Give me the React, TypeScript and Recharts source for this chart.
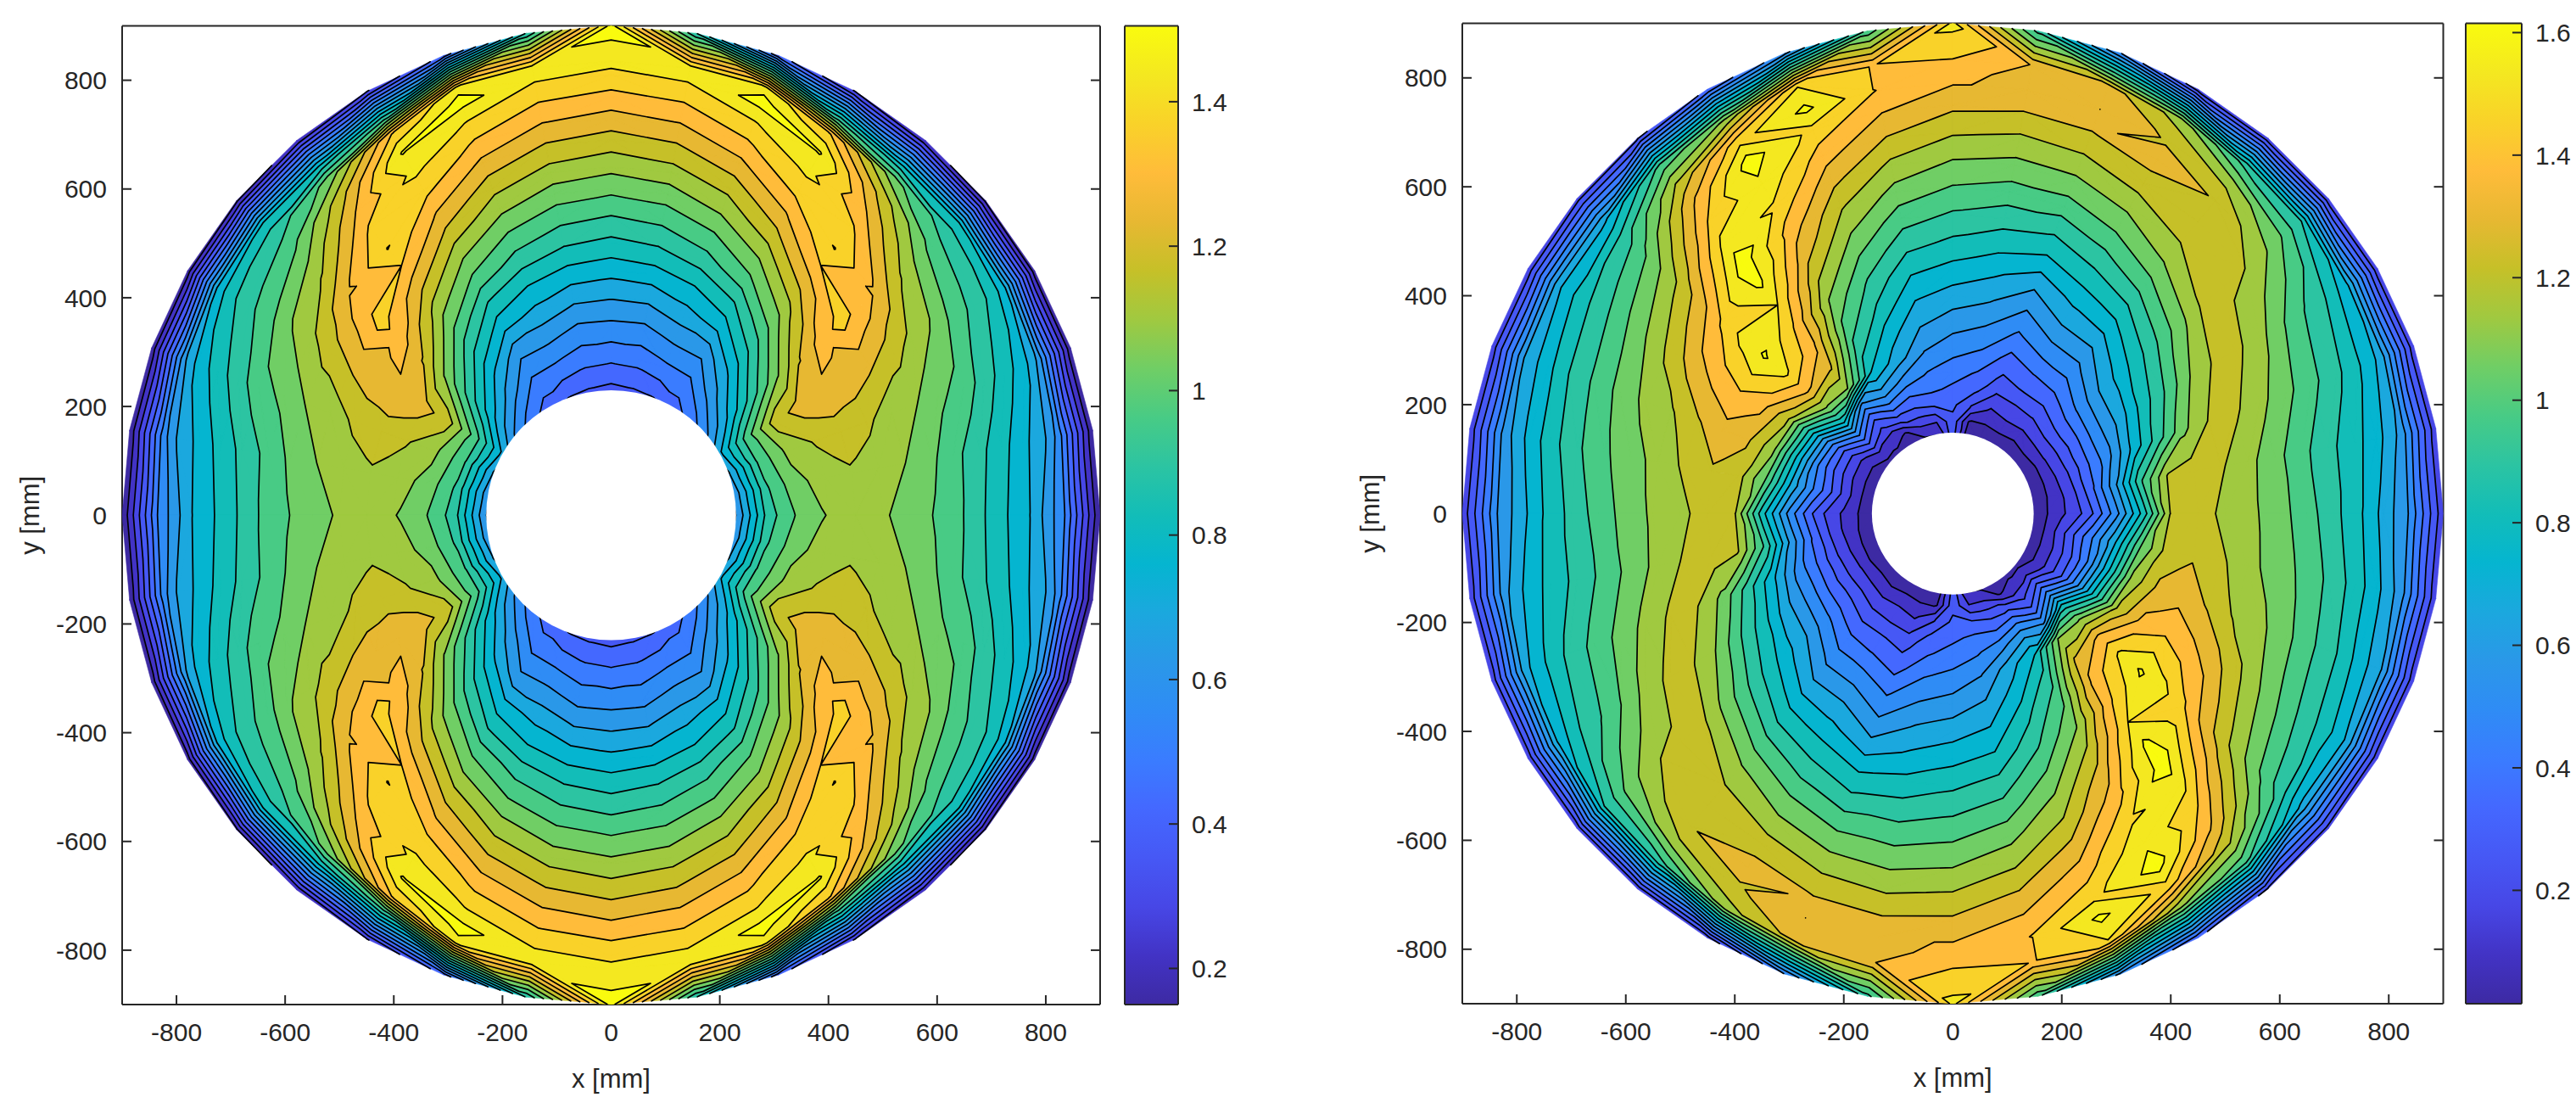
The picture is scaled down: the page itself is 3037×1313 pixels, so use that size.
import React from "react";
import { ScatterChart, Scatter, XAxis, YAxis, BarChart, Bar, Label } from "recharts";

// Field samples: one list per ray, angle in degrees from +x
const leftRadii = [225, 290, 345, 400, 450, 500, 550, 600, 640, 690, 730, 770, 810, 835, 900];
const leftT0 = [0.6, 0.93, 1.04, 1.1, 1.125, 1.105, 1.065, 1.02, 0.975, 0.89, 0.825, 0.76, 0.64, 0.555, 0.16];
const leftT10 = [0.62, 0.95, 1.075, 1.125, 1.155, 1.12, 1.095, 1.04, 0.985, 0.91, 0.85, 0.78, 0.7, 0.6, 0.165];
const leftT20 = [0.66, 0.98, 1.11, 1.17, 1.195, 1.18, 1.12, 1.095, 1.045, 1.0, 0.93, 0.86, 0.78, 0.68, 0.17];
const leftT30 = [0.72, 1.0, 1.19, 1.26, 1.285, 1.27, 1.24, 1.19, 1.14, 1.08, 1.0, 0.94, 0.87, 0.78, 0.18];
const leftT40 = [0.6, 0.79, 0.945, 1.09, 1.225, 1.32, 1.39, 1.34, 1.28, 1.17, 1.09, 1.0, 0.92, 0.84, 0.2];
const leftT50 = [0.51, 0.66, 0.78, 0.91, 1.0275, 1.135, 1.25, 1.365, 1.435, 1.375, 1.3, 1.21, 1.05, 0.85, 0.23];
const leftT60 = [0.45, 0.55, 0.645, 0.78, 0.885, 1.005, 1.105, 1.21, 1.29, 1.39, 1.45, 1.505, 1.36, 1.0, 0.28];
const leftT70 = [0.41, 0.54, 0.64, 0.74, 0.827, 0.93, 1.02, 1.115, 1.185, 1.28, 1.355, 1.428, 1.53, 1.47, 0.45];
const leftT80 = [0.4, 0.513, 0.6, 0.7, 0.795, 0.889, 0.976, 1.063, 1.134, 1.221, 1.293, 1.363, 1.434, 1.47, 0.9];
const leftT90 = [0.39, 0.505, 0.6, 0.695, 0.783, 0.872, 0.958, 1.047, 1.115, 1.2, 1.27, 1.344, 1.412, 1.455, 1.53];
const leftRays = [leftT0, leftT10, leftT20, leftT30, leftT40, leftT50, leftT60, leftT70, leftT80, leftT90];

const rightRadii = [140, 170, 200, 230, 260, 300, 350, 400, 450, 500, 550, 600, 650, 700, 750, 790, 835, 900];
const rightT0 = [0.05, 0.085, 0.16, 0.23, 0.345, 0.545, 0.85, 1.22, 1.26, 1.19, 1.15, 1.085, 1.01, 0.92, 0.82, 0.71, 0.58, 0.2];
const rightT10 = [0.055, 0.08, 0.16, 0.26, 0.4, 0.62, 0.96, 1.22, 1.26, 1.225, 1.16, 1.085, 1.0, 0.92, 0.84, 0.77, 0.63, 0.2];
const rightT20 = [0.055, 0.08, 0.175, 0.275, 0.395, 0.535, 0.75, 0.935, 1.115, 1.22, 1.23, 1.16, 1.08, 1.0, 0.915, 0.83, 0.71, 0.2];
const rightT30 = [0.05, 0.08, 0.19, 0.285, 0.39, 0.535, 0.68, 0.845, 0.98, 1.13, 1.22, 1.235, 1.165, 1.06, 0.965, 0.895, 0.76, 0.2];
const rightT40 = [0.05, 0.095, 0.19, 0.295, 0.385, 0.51, 0.655, 0.77, 0.88, 1.0, 1.12, 1.235, 1.235, 1.215, 1.14, 1.05, 0.895, 0.2];
const rightT50 = [0.05, 0.08, 0.175, 0.26, 0.34, 0.44, 0.55, 0.66, 0.78, 0.895, 1.02, 1.13, 1.215, 1.25, 1.29, 1.19, 0.95, 0.2];
const rightT60 = [0.05, 0.095, 0.185, 0.255, 0.34, 0.425, 0.545, 0.655, 0.755, 0.855, 0.955, 1.06, 1.155, 1.255, 1.33, 1.285, 1.18, 0.21];
const rightT70 = [0.055, 0.085, 0.16, 0.245, 0.315, 0.385, 0.485, 0.58, 0.68, 0.805, 0.905, 1.015, 1.115, 1.21, 1.3, 1.375, 1.33, 0.5];
const rightT80 = [0.05, 0.085, 0.25, 0.355, 0.405, 0.485, 0.575, 0.665, 0.75, 0.84, 0.93, 1.02, 1.11, 1.2, 1.295, 1.36, 1.37, 0.95];
const rightT90 = [0.28, 0.31, 0.355, 0.4, 0.45, 0.52, 0.61, 0.7, 0.79, 0.88, 0.965, 1.05, 1.135, 1.225, 1.315, 1.38, 1.455, 1.56];
const rightT100 = [0.07, 0.175, 0.335, 0.43, 0.485, 0.57, 0.66, 0.74, 0.825, 0.92, 1.01, 1.105, 1.195, 1.29, 1.38, 1.45, 1.45, 1.0];
const rightT110 = [0.06, 0.175, 0.315, 0.42, 0.545, 0.695, 0.78, 0.88, 0.96, 1.05, 1.14, 1.225, 1.32, 1.415, 1.51, 1.635, 1.53, 0.55];
const rightT120 = [0.05, 0.085, 0.31, 0.48, 0.64, 0.815, 0.94, 1.04, 1.125, 1.23, 1.335, 1.42, 1.52, 1.6, 1.65, 1.5, 1.15, 0.35];
const rightT130 = [0.06, 0.12, 0.235, 0.36, 0.56, 1.135, 1.31, 1.4, 1.445, 1.535, 1.63, 1.66, 1.57, 1.455, 1.35, 1.22, 1.0, 0.24];
const rightT140 = [0.05, 0.135, 0.335, 0.54, 0.815, 1.12, 1.39, 1.55, 1.625, 1.565, 1.47, 1.35, 1.24, 1.135, 1.02, 0.925, 0.72, 0.22];
const rightT150 = [0.05, 0.095, 0.195, 0.335, 0.535, 0.855, 1.235, 1.4, 1.455, 1.405, 1.335, 1.235, 1.135, 1.035, 0.935, 0.855, 0.72, 0.2];
const rightT160 = [0.05, 0.095, 0.195, 0.325, 0.48, 0.775, 1.16, 1.31, 1.345, 1.285, 1.205, 1.155, 1.08, 0.99, 0.895, 0.79, 0.67, 0.2];
const rightT170 = [0.05, 0.095, 0.215, 0.355, 0.495, 0.71, 1.055, 1.25, 1.285, 1.23, 1.16, 1.105, 1.04, 0.96, 0.86, 0.76, 0.615, 0.2];
const rightRays = [
  rightT0, rightT10, rightT20, rightT30, rightT40, rightT50, rightT60, rightT70, rightT80,
  rightT90, rightT100, rightT110, rightT120, rightT130, rightT140, rightT150, rightT160, rightT170,
];

// one colour per contour level, bottom to top of the colorbar
const levelColors = [
  "#3d2aa3", "#4233c5", "#4747e6", "#4658f5", "#4468ff", "#3a7cff", "#2f8cf5", "#2a98e8", "#1ba8de",
  "#05b5d0", "#12bdb8", "#2cc4a2", "#48cb85", "#70ce65", "#a0c940", "#c6c028", "#e7b832", "#ffbc3a",
  "#f9d229", "#f4e820", "#f9fb0e",
];

const axisTicks = [-800, -600, -400, -200, 0, 200, 400, 600, 800];
const leftBarTicks = [0.2, 0.4, 0.6, 0.8, 1, 1.2, 1.4];
const rightBarTicks = [0.2, 0.4, 0.6, 0.8, 1, 1.2, 1.4, 1.6];
const leftLevelStart = 0.15;
const leftLevelStep = 0.0675;
const rightLevelStart = 0.015;
const rightLevelStep = 0.08;
const leftRange = [0.15, 1.505];
const rightRange = [0.015, 1.615];

const INK = "#262626";
const FONT = "'Liberation Sans', Arial, sans-serif";

type V = [number, number, number];

function clipPoly(poly: V[], level: number, above: boolean): V[] {
  const out: V[] = [];
  for (let i = 0; i < poly.length; i++) {
    const a = poly[i];
    const b = poly[(i + 1) % poly.length];
    const aIn = above ? a[2] >= level : a[2] < level;
    const bIn = above ? b[2] >= level : b[2] < level;
    if (aIn) out.push(a);
    if (aIn !== bIn) {
      const t = (level - a[2]) / (b[2] - a[2]);
      out.push([a[0] + t * (b[0] - a[0]), a[1] + t * (b[1] - a[1]), level]);
    }
  }
  return out;
}

function buildContours(radii: number[], rays: number[][], start: number, step: number) {
  const levels = levelColors.map((_, k) => start + step * k);
  const bands = levelColors.map((color) => ({ color, pts: [] as { x: number; y: number }[], sizes: [] as number[] }));
  const lines = levels.map(() => [] as { x: number; y: number }[]);
  const node = (a: number, r: number): V => {
    const rad = (a * 10 * Math.PI) / 180;
    const n = rays.length;
    // left field mirrors across both axes, right field repeats after half a turn
    let row: number;
    if (n === 10) {
      const q = ((a % 36) + 36) % 36;
      row = q <= 9 ? q : q <= 18 ? 18 - q : q <= 27 ? q - 18 : 36 - q;
    } else {
      row = a % 18;
    }
    return [radii[r] * Math.cos(rad), radii[r] * Math.sin(rad), rays[row][r]];
  };
  const addTri = (tri: V[]) => {
    levels.forEach((lv, k) => {
      let poly: V[] = tri;
      if (k > 0) poly = clipPoly(poly, lv, true);
      if (k < levels.length - 1 && poly.length) poly = clipPoly(poly, levels[k + 1], false);
      if (poly.length >= 3) {
        poly.forEach((p) => bands[k].pts.push({ x: p[0], y: p[1] }));
        bands[k].sizes.push(poly.length);
      }
      const cross: { x: number; y: number }[] = [];
      for (let i = 0; i < 3; i++) {
        const p = tri[i];
        const q = tri[(i + 1) % 3];
        if (p[2] >= lv !== q[2] >= lv) {
          const t = (lv - p[2]) / (q[2] - p[2]);
          cross.push({ x: p[0] + t * (q[0] - p[0]), y: p[1] + t * (q[1] - p[1]) });
        }
      }
      if (cross.length === 2) lines[k].push(cross[0], cross[1]);
    });
  };
  for (let a = 0; a < 36; a++) {
    for (let r = 0; r < radii.length - 1; r++) {
      const p00 = node(a, r);
      const p10 = node(a, r + 1);
      const p11 = node(a + 1, r + 1);
      const p01 = node(a + 1, r);
      if (Math.abs(p00[2] - p11[2]) <= Math.abs(p10[2] - p01[2])) {
        addTri([p00, p10, p11]);
        addTri([p00, p11, p01]);
      } else {
        addTri([p00, p10, p01]);
        addTri([p10, p11, p01]);
      }
    }
  }
  return { bands, lines };
}

const pathFrom = (points: { x: number; y: number }[], sizes: number[] | null, close: boolean) => {
  let d = "";
  let i = 0;
  const counts = sizes ?? Array.from({ length: points.length / 2 }, () => 2);
  for (const n of counts) {
    for (let j = 0; j < n; j++) {
      const p = points[i + j];
      d += `${j ? "L" : "M"}${p.x.toFixed(2)} ${p.y.toFixed(2)}`;
    }
    if (close) d += "Z";
    i += n;
  }
  return d;
};

const noShape = () => null;
const tickStyle = { fill: INK, fontSize: 30, fontFamily: FONT };
const blankTick = () => "";

function ContourPanel({ x0, x1, y0, y1, radii, rays, start, step, holePx }: any) {
  const { bands, lines } = React.useMemo(() => buildContours(radii, rays, start, step), [radii, rays, start, step]);
  const width = x1 - x0 + 144 + 24;
  const axisProps = {
    type: "number" as const,
    domain: [-900, 900],
    ticks: axisTicks,
    interval: 0 as const,
    allowDataOverflow: true,
    stroke: INK,
    strokeWidth: 2,
    tickSize: -11,
  };
  return (
    <div style={{ position: "absolute", left: x0 - 144, top: 0, width, height: 1313 }}>
      <ScatterChart
        width={width}
        height={1313}
        margin={{ left: 44, right: 14, top: y0 - 10, bottom: 1313 - y1 - 100 }}
      >
        <XAxis {...axisProps} dataKey="x" height={100} tick={tickStyle} tickMargin={33}>
          <Label value="x [mm]" position="insideBottom" offset={2} style={{ ...tickStyle, fontSize: 31 }} />
        </XAxis>
        <XAxis {...axisProps} xAxisId="top" orientation="top" height={10} tickFormatter={blankTick} />
        <YAxis {...axisProps} dataKey="y" width={100} tick={tickStyle} tickMargin={29}>
          <Label
            value="y [mm]"
            angle={-90}
            position="insideLeft"
            offset={-9}
            textAnchor="middle"
            style={{ ...tickStyle, fontSize: 31, textAnchor: "middle" }}
          />
        </YAxis>
        <YAxis {...axisProps} yAxisId="right" orientation="right" width={10} tickFormatter={blankTick} />
        {bands.map((b: any, k: number) => (
          <Scatter
            key={`band${k}`}
            data={b.pts}
            shape={noShape}
            isAnimationActive={false}
            line={(p: any) => (
              <path d={pathFrom(p.points, b.sizes, true)} fill={b.color} stroke={b.color} strokeWidth={0.6} />
            )}
          />
        ))}
        {lines.map((l: any, k: number) => (
          <Scatter
            key={`line${k}`}
            data={l}
            shape={noShape}
            isAnimationActive={false}
            line={(p: any) => (
              <path d={pathFrom(p.points, null, false)} fill="none" stroke="#000" strokeWidth={1.7} strokeLinecap="round" />
            )}
          />
        ))}
        <Scatter
          data={[{ x: 0, y: 0 }]}
          isAnimationActive={false}
          shape={(p: any) => <circle cx={p.cx} cy={p.cy} r={holePx} fill="#fff" />}
        />
      </ScatterChart>
    </div>
  );
}

function ColorBar({ x0, x1, y0, y1, range, ticks, id }: any) {
  const width = x1 - x0 + 130;
  const lineProps = { stroke: INK, strokeWidth: 2 };
  return (
    <div style={{ position: "absolute", left: x0 - 10, top: 0, width, height: 1313 }}>
      <BarChart
        width={width}
        height={1313}
        data={[{ name: "c", top: range[1] }]}
        barCategoryGap={0}
        margin={{ left: 0, right: 0, top: y0 - 10, bottom: 1313 - y1 - 10 }}
      >
        <defs>
          <linearGradient id={id} x1="0" y1="1" x2="0" y2="0">
            {levelColors.map((c, i) => (
              <stop key={c} offset={`${(i / (levelColors.length - 1)) * 100}%`} stopColor={c} />
            ))}
          </linearGradient>
        </defs>
        <XAxis dataKey="name" height={10} {...lineProps} tick={false} tickLine={false} />
        <XAxis dataKey="name" xAxisId="top" orientation="top" height={10} {...lineProps} tick={false} tickLine={false} />
        <YAxis type="number" domain={range} width={10} ticks={[]} {...lineProps} tick={false} tickLine={false} allowDataOverflow />
        <YAxis
          type="number"
          yAxisId="right"
          orientation="right"
          domain={range}
          ticks={ticks}
          interval={0}
          width={110}
          {...lineProps}
          tick={tickStyle}
          tickSize={-11}
          tickMargin={27}
          allowDataOverflow
        />
        <Bar dataKey="top" fill={`url(#${id})`} isAnimationActive={false} />
      </BarChart>
    </div>
  );
}

export default function App() {
  return (
    <div style={{ position: "absolute", left: 0, top: 0, width: 3037, height: 1313, background: "#fff", overflow: "hidden" }}>
      <ContourPanel
        x0={144}
        x1={1297}
        y0={30.5}
        y1={1184}
        radii={leftRadii}
        rays={leftRays}
        start={leftLevelStart}
        step={leftLevelStep}
        holePx={147.3}
      />
      <ColorBar x0={1326} x1={1379} y0={30.5} y1={1184} range={leftRange} ticks={leftBarTicks} id="barLeft" />
      <ContourPanel
        x0={1724}
        x1={2880.5}
        y0={27.6}
        y1={1183}
        radii={rightRadii}
        rays={rightRays}
        start={rightLevelStart}
        step={rightLevelStep}
        holePx={95.4}
      />
      <ColorBar x0={2907} x1={2963} y0={27.6} y1={1183} range={rightRange} ticks={rightBarTicks} id="barRight" />
    </div>
  );
}
